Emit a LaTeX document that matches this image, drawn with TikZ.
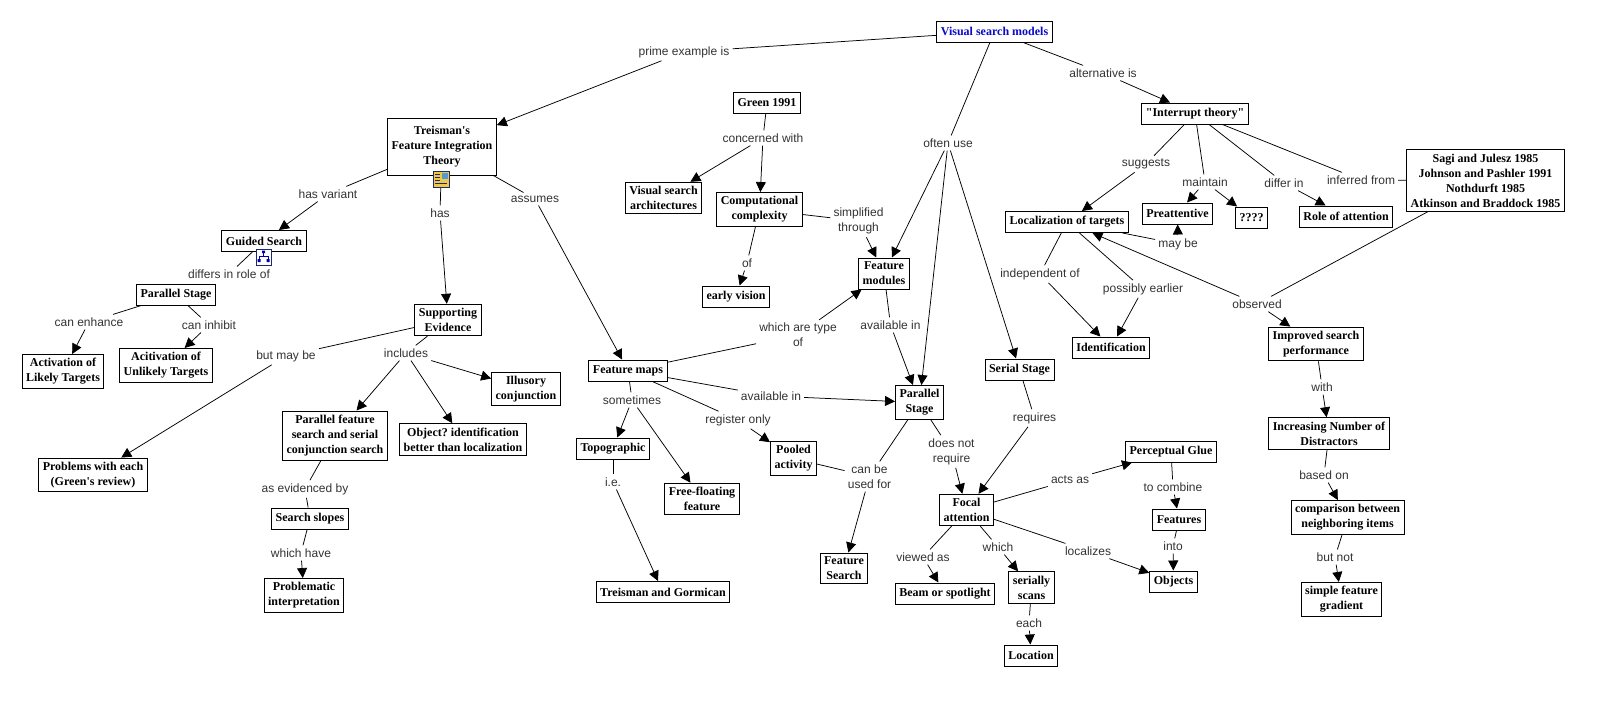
\documentclass[tikz,border=0pt]{standalone}
\usepackage{fontspec}
\setmainfont{Liberation Serif}
\newfontfamily\linkfont{Liberation Sans}
\usepackage{xcolor}
\usepackage{tikz}
\usetikzlibrary{arrows.meta}

\definecolor{vsmblue}{RGB}{10,10,200}
\definecolor{iconnavy}{RGB}{30,40,110}
\definecolor{iconyellow}{RGB}{240,200,70}

\begin{document}
\begin{tikzpicture}[x=1pt, y=-1pt,
    concept/.style={rectangle, draw, line width=1pt, fill=white, align=center,
      font=\bfseries\fontsize{12}{15}\selectfont, inner xsep=4pt, inner ysep=4pt, minimum height=21pt},
    linkword/.style={align=center, font=\linkfont\fontsize{12}{15}\selectfont, text=black!80, inner sep=3pt},
    link/.style={line width=0.75pt},
    arrowlink/.style={link, -{Triangle[length=10pt,width=10pt]}},
    mapicon/.style={rectangle, draw=iconnavy, line width=0.8pt, minimum width=15pt, minimum height=16pt, inner sep=0pt}]
    \useasboundingbox[fill=white] (0,0) rectangle (1604,707);

    % concepts
    \node (vsm) [concept, text=vsmblue] at (994.5,31.5) {Visual search models};
    \node (fit) [concept, minimum height=57pt] at (442,146.5) {Treisman\textquotesingle s\\Feature Integration\\Theory};
    \node (guided) [concept] at (264,241) {Guided Search};
    \node (parleft) [concept] at (176,294.5) {Parallel Stage};
    \node (likely) [concept] at (63,371.5) {Activation of\\Likely Targets};
    \node (unlikely) [concept] at (166,365.5) {Acitivation of\\Unlikely Targets};
    \node (support) [concept] at (448,320) {Supporting\\Evidence};
    \node (problems) [concept] at (93,475) {Problems with each\\(Green\textquotesingle s review)};
    \node (pfs) [concept] at (335,435.5) {Parallel feature\\search and serial\\conjunction search};
    \node (objid) [concept] at (463,439.5) {Object?\ identification\\better than localization};
    \node (illusory) [concept] at (526,389) {Illusory\\conjunction};
    \node (slopes) [concept] at (310,518.5) {Search slopes};
    \node (problematic) [concept] at (304,595.5) {Problematic\\interpretation};
    \node (green) [concept] at (767,102.5) {Green 1991};
    \node (vsarch) [concept] at (663.5,198) {Visual search\\architectures};
    \node (complexity) [concept] at (759.5,209.5) {Computational\\complexity};
    \node (early) [concept] at (736,296.5) {early vision};
    \node (modules) [concept] at (884,273.5) {Feature\\modules};
    \node (fmaps) [concept] at (628,370.5) {Feature maps};
    \node (topo) [concept] at (613,448.5) {Topographic};
    \node (free) [concept] at (702,499) {Free-floating\\feature};
    \node (gormican) [concept] at (663,592) {Treisman and Gormican};
    \node (pooled) [concept] at (793.5,458.5) {Pooled\\activity};
    \node (parmid) [concept] at (919.5,402.5) {Parallel\\Stage};
    \node (serial) [concept] at (1019.5,369.5) {Serial Stage};
    \node (fsearch) [concept] at (844,568.5) {Feature\\Search};
    \node (focal) [concept] at (966.5,510) {Focal\\attention};
    \node (beam) [concept] at (945,593.5) {Beam or spotlight};
    \node (scans) [concept] at (1031.5,587.5) {serially\\scans};
    \node (location) [concept] at (1031,655.5) {Location};
    \node (interrupt) [concept] at (1195,113.5) {\textquotedbl Interrupt theory\textquotedbl};
    \node (localization) [concept] at (1067,222) {Localization of targets};
    \node (preatt) [concept] at (1177.5,213.5) {Preattentive};
    \node (unknown) [concept] at (1251.5,217.5) {????};
    \node (role) [concept] at (1346,216.5) {Role of attention};
    \node (sagi) [concept] at (1485.5,180.5) {Sagi and Julesz 1985\\Johnson and Pashler 1991\\Nothdurft 1985\\Atkinson and Braddock 1985};
    \node (ident) [concept] at (1111,347.5) {Identification};
    \node (improved) [concept] at (1316,344) {Improved search\\performance};
    \node (glue) [concept] at (1171,451.5) {Perceptual Glue};
    \node (features) [concept] at (1179,519.5) {Features};
    \node (objects) [concept] at (1173.5,581.5) {Objects};
    \node (distractors) [concept] at (1329,433.5) {Increasing Number of\\Distractors};
    \node (comparison) [concept] at (1347.5,517.5) {comparison between\\neighboring items};
    \node (gradient) [concept] at (1341.5,599.5) {simple feature\\gradient};

    % linking phrases
    \node (lprime) [linkword] at (684,52) {prime example is};
    \node (loften) [linkword] at (948,143) {often use};
    \node (lalt) [linkword] at (1103,73) {alternative is};
    \node (lvariant) [linkword] at (328,194) {has variant};
    \node (lhas) [linkword] at (440,213) {has};
    \node (lassumes) [linkword] at (535,199) {assumes};
    \node (ldiffers) [linkword] at (229,274) {differs in role of};
    \node (lenhance) [linkword] at (89,322) {can enhance};
    \node (linhibit) [linkword] at (209,325) {can inhibit};
    \node (lbutmay) [linkword] at (286,356) {but may be};
    \node (lincludes) [linkword] at (406,353) {includes};
    \node (levidenced) [linkword] at (305,489) {as evidenced by};
    \node (lwhichhave) [linkword] at (301,553) {which have};
    \node (lconcerned) [linkword] at (763,138) {concerned with};
    \node (lsimplified) [linkword] at (858.5,221) {simplified\\through};
    \node (lof) [linkword] at (747,263) {of};
    \node (ltypeof) [linkword] at (798,335) {which are type\\of};
    \node (lavailup) [linkword] at (890.5,325) {available in};
    \node (lavaillow) [linkword] at (771,396) {available in};
    \node (lsometimes) [linkword] at (632,400) {sometimes};
    \node (lregister) [linkword] at (738,420) {register only};
    \node (lie) [linkword] at (613,482) {i.e.};
    \node (lusedfor) [linkword] at (869.5,476.5) {can be\\used for};
    \node (lnotreq) [linkword] at (951.5,451.5) {does not\\require};
    \node (lrequires) [linkword] at (1034.5,418) {requires};
    \node (lactsas) [linkword] at (1070,480) {acts as};
    \node (lcombine) [linkword] at (1173,487) {to combine};
    \node (linto) [linkword] at (1173,546) {into};
    \node (llocalizes) [linkword] at (1088,551) {localizes};
    \node (lviewed) [linkword] at (923,557) {viewed as};
    \node (lwhich) [linkword] at (998,547) {which};
    \node (leach) [linkword] at (1029,623) {each};
    \node (lsuggests) [linkword] at (1146,164) {suggests};
    \node (lmaintain) [linkword] at (1205,182) {maintain};
    \node (ldifferin) [linkword] at (1284,183) {differ in};
    \node (linferred) [linkword] at (1361,180) {inferred from};
    \node (lmaybe) [linkword] at (1178,244) {may be};
    \node (lindep) [linkword] at (1040,274) {independent of};
    \node (learlier) [linkword] at (1143,289) {possibly earlier};
    \node (lobserved) [linkword] at (1257,304) {observed};
    \node (lwith) [linkword] at (1322,387) {with};
    \node (lbasedon) [linkword] at (1324,475) {based on};
    \node (lbutnot) [linkword] at (1335,557) {but not};

    % links
    \draw [link] (vsm) -- (lprime);
    \draw [arrowlink] (lprime) -- (fit);
    \draw [link] (vsm) -- (loften);
    \draw [arrowlink] (loften) -- (modules);
    \draw [arrowlink] (loften) -- (parmid);
    \draw [arrowlink] (loften) -- (serial);
    \draw [link] (vsm) -- (lalt);
    \draw [arrowlink] (lalt) -- (interrupt);

    \draw [link] (fit) -- (lvariant);
    \draw [arrowlink] (lvariant) -- (guided);
    \draw [link] (fit) -- (lhas);
    \draw [arrowlink] (lhas) -- (support);
    \draw [link] (fit) -- (lassumes);
    \draw [arrowlink] (lassumes) -- (fmaps);

    \draw [link] (guided) -- (ldiffers);
    \draw [link] (parleft) -- (lenhance);
    \draw [arrowlink] (lenhance) -- (likely);
    \draw [link] (parleft) -- (linhibit);
    \draw [arrowlink] (linhibit) -- (unlikely);

    \draw [link] (support) -- (lbutmay);
    \draw [arrowlink] (lbutmay) -- (problems);
    \draw [link] (support) -- (lincludes);
    \draw [arrowlink] (lincludes) -- (pfs);
    \draw [arrowlink] (lincludes) -- (objid);
    \draw [arrowlink] (lincludes) -- (illusory);
    \draw [link] (pfs) -- (levidenced);
    \draw [link] (levidenced) -- (slopes);
    \draw [link] (slopes) -- (lwhichhave);
    \draw [arrowlink] (lwhichhave) -- (problematic);

    \draw [link] (green) -- (lconcerned);
    \draw [arrowlink] (lconcerned) -- (vsarch);
    \draw [arrowlink] (lconcerned) -- (complexity);
    \draw [link] (complexity) -- (lsimplified);
    \draw [arrowlink] (lsimplified) -- (modules);
    \draw [link] (complexity) -- (lof);
    \draw [arrowlink] (lof) -- (early);

    \draw [link] (fmaps) -- (ltypeof);
    \draw [arrowlink] (ltypeof) -- (modules);
    \draw [link] (modules) -- (lavailup);
    \draw [arrowlink] (lavailup) -- (parmid);
    \draw [link] (fmaps) -- (lavaillow);
    \draw [arrowlink] (lavaillow) -- (parmid);
    \draw [link] (fmaps) -- (lsometimes);
    \draw [arrowlink] (lsometimes) -- (topo);
    \draw [arrowlink] (lsometimes) -- (free);
    \draw [link] (fmaps) -- (lregister);
    \draw [arrowlink] (lregister) -- (pooled);
    \draw [link] (topo) -- (lie);
    \draw [arrowlink] (lie) -- (gormican);
    \draw [link] (pooled) -- (lusedfor);
    \draw [link] (parmid) -- (lusedfor);
    \draw [arrowlink] (lusedfor) -- (fsearch);
    \draw [link] (parmid) -- (lnotreq);
    \draw [arrowlink] (lnotreq) -- (focal);
    \draw [link] (serial) -- (lrequires);
    \draw [arrowlink] (lrequires) -- (focal);

    \draw [link] (focal) -- (lactsas);
    \draw [arrowlink] (lactsas) -- (glue);
    \draw [link] (glue) -- (lcombine);
    \draw [arrowlink] (lcombine) -- (features);
    \draw [link] (features) -- (linto);
    \draw [arrowlink] (linto) -- (objects);
    \draw [link] (focal) -- (llocalizes);
    \draw [arrowlink] (llocalizes) -- (objects);
    \draw [link] (focal) -- (lviewed);
    \draw [arrowlink] (lviewed) -- (beam);
    \draw [link] (focal) -- (lwhich);
    \draw [arrowlink] (lwhich) -- (scans);
    \draw [link] (scans) -- (leach);
    \draw [arrowlink] (leach) -- (location);

    \draw [link] (interrupt) -- (lsuggests);
    \draw [arrowlink] (lsuggests) -- (localization);
    \draw [link] (interrupt) -- (lmaintain);
    \draw [arrowlink] (lmaintain) -- (preatt);
    \draw [arrowlink] (lmaintain) -- (unknown);
    \draw [link] (interrupt) -- (ldifferin);
    \draw [arrowlink] (ldifferin) -- (role);
    \draw [link] (interrupt) -- (linferred);
    \draw [link] (linferred) -- (sagi);
    \draw [link] (sagi) -- (lobserved);
    \draw [arrowlink] (lobserved) -- (localization);
    \draw [arrowlink] (lobserved) -- (improved);
    \draw [link] (localization) -- (lindep);
    \draw [arrowlink] (lindep) -- (ident);
    \draw [link] (localization) -- (learlier);
    \draw [arrowlink] (learlier) -- (ident);
    \draw [link] (localization) -- (lmaybe);
    \draw [arrowlink] (lmaybe) -- (preatt);

    \draw [link] (improved) -- (lwith);
    \draw [arrowlink] (lwith) -- (distractors);
    \draw [link] (distractors) -- (lbasedon);
    \draw [arrowlink] (lbasedon) -- (comparison);
    \draw [link] (comparison) -- (lbutnot);
    \draw [arrowlink] (lbutnot) -- (gradient);

    % icons
    \node (fiticon) [mapicon, fill=iconyellow, minimum width=16pt] at (441,179) {};
    \fill [cyan!60!blue!70] (441.5,173) rectangle (447.5,179);
    \draw [iconnavy, line width=0.8pt] (435,174.5) -- (440,174.5) (435,177.5) -- (440,177.5)
        (435,180.5) -- (440,180.5) (435,183.5) -- (447,183.5);
    \node (gsicon) [mapicon, fill=white] at (263.5,257) {};
    \draw [blue!70!black, line width=0.6pt] (263.5,253) -- (263.5,256) (259,256) -- (268,256)
        (259,256) -- (259,259) (268,256) -- (268,259);
    \fill [blue!70!black] (262,250.5) rectangle (265,253) (257.5,259) rectangle (260.5,262)
        (266.5,259) rectangle (269.5,262);
\end{tikzpicture}
\end{document}
